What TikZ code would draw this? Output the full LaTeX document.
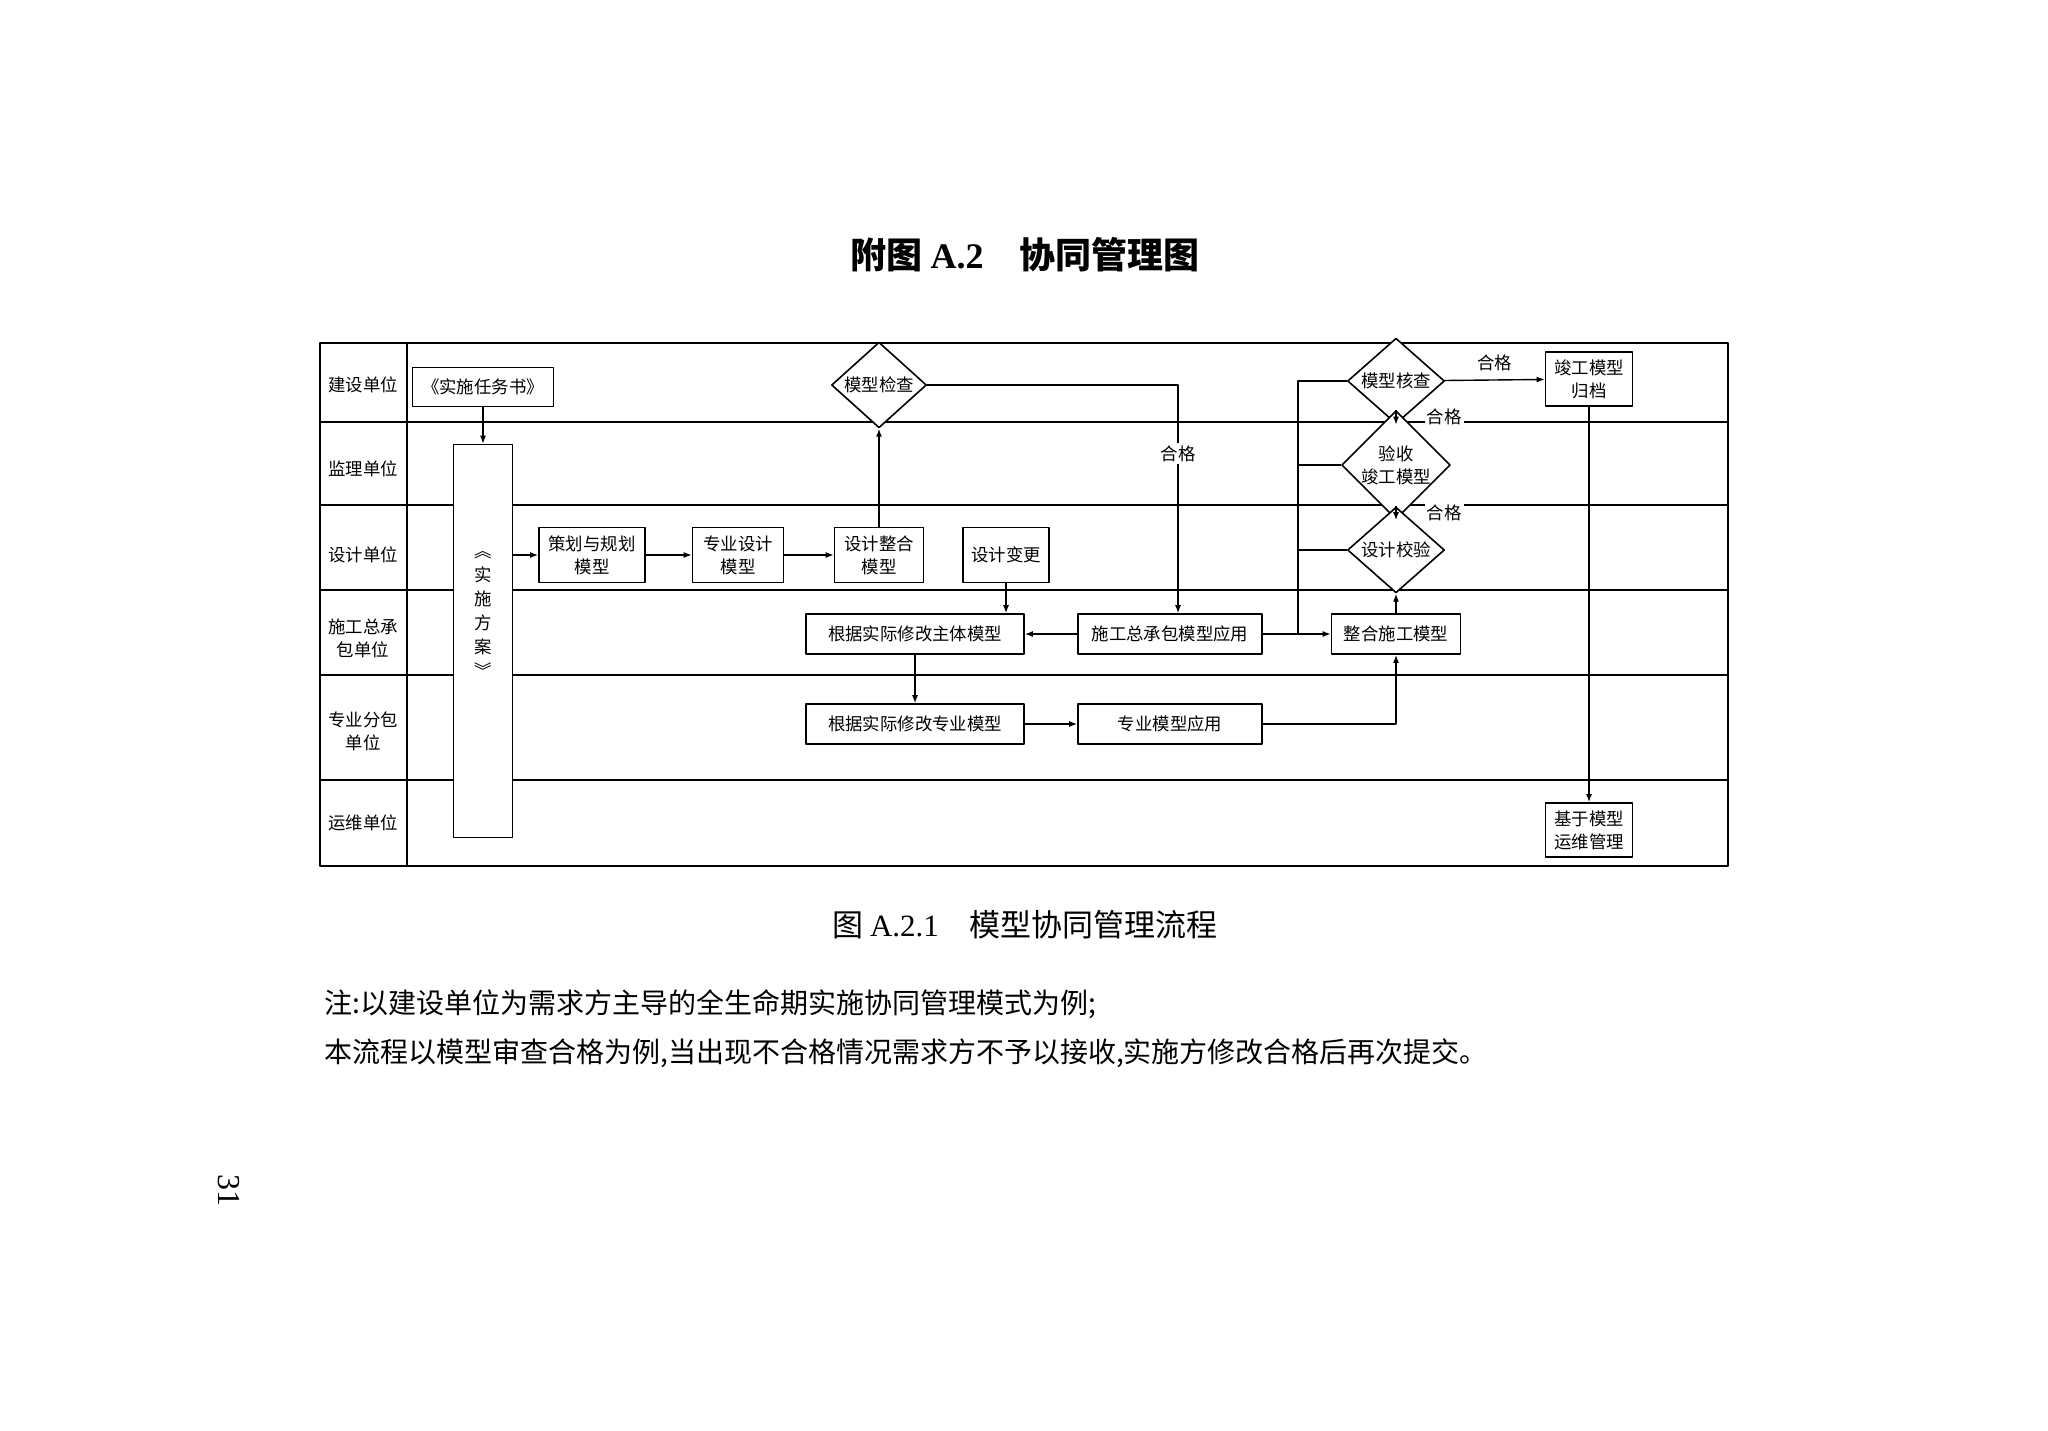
\documentclass[tikz,border=0pt]{standalone}
\usepackage{fontspec}
\setmainfont{Noto Sans CJK SC}
\newfontfamily\serifnum{Liberation Serif}
\usetikzlibrary{shapes.geometric,arrows.meta}

\begin{document}
\begin{tikzpicture}[x=0.5pt,y=-0.5pt,line join=round,
    every node/.style={font=\fontsize{8.7pt}{11.5pt}\selectfont},
    box/.style={draw,line width=0.8pt,fill=white,align=center,inner sep=0pt},
    dia/.style={draw,line width=0.8pt,fill=white,shape=diamond,align=center,inner sep=0pt},
    arr/.style={line width=0.7pt,-{Latex[length=4pt,width=3pt]}},
    lane/.style={line width=0.8pt}]
    \useasboundingbox (0,0) rectangle (2048,1430);

    \node (title) at (1025,255) {\fontsize{18pt}{20pt}\selectfont\bfseries 附图 {\serifnum A.2}\quad 协同管理图};

    \draw[lane] (320,343) rectangle (1728,866);
    \draw[lane] (407,343) -- (407,866);
    \foreach \y in {422,505,590,675,780}
      \draw[lane] (320,\y) -- (1728,\y);

    \node[align=center] (lanea) at (363,385) {建设单位};
    \node[align=center] (laneb) at (363,469) {监理单位};
    \node[align=center] (lanec) at (363,555) {设计单位};
    \node[align=center] (laned) at (363,638) {施工总承\\包单位};
    \node[align=center] (lanee) at (363,731) {专业分包\\单位};
    \node[align=center] (lanef) at (363,823) {运维单位};

    \node[box,minimum width=70.5pt,minimum height=19.5pt] (task) at (483,387) {《实施任务书》};
    \node[box,minimum width=29.5pt,minimum height=196.5pt] (plan) at (483,641) {};
    \node[align=center,font=\fontsize{8.7pt}{12pt}\selectfont] (plantxt) at (483,614) {︽\\实\\施\\方\\案\\︾};

    \node[box,minimum width=53pt,minimum height=27.5pt] (planmod) at (592,555) {策划与规划\\模型};
    \node[box,minimum width=45.5pt,minimum height=27.5pt] (specdes) at (738,555) {专业设计\\模型};
    \node[box,minimum width=44.5pt,minimum height=27.5pt] (intdes) at (879,555) {设计整合\\模型};
    \node[box,minimum width=43pt,minimum height=27.5pt] (change) at (1006,555) {设计变更};
    \node[dia,minimum width=47.5pt,minimum height=35.5pt] (check) at (879,385) {模型检查};

    \node[box,minimum width=109pt,minimum height=20pt] (modmain) at (915,634) {根据实际修改主体模型};
    \node[box,minimum width=92pt,minimum height=20pt] (gcapp) at (1170,634) {施工总承包模型应用};
    \node[box,minimum width=64.5pt,minimum height=20pt] (intcon) at (1396,634) {整合施工模型};
    \node[box,minimum width=109pt,minimum height=20pt] (modspec) at (915,724) {根据实际修改专业模型};
    \node[box,minimum width=92pt,minimum height=20pt] (specapp) at (1170,724) {专业模型应用};

    \node[dia,minimum width=48.5pt,minimum height=37pt] (verify) at (1396,381) {模型核查};
    \node[dia,minimum width=53.5pt,minimum height=38.5pt] (accept) at (1396,465) {验收\\竣工模型};
    \node[dia,minimum width=48.5pt,minimum height=37.5pt] (dcheck) at (1396,550) {设计校验};
    \node[box,minimum width=43.5pt,minimum height=27pt] (archive) at (1589,379) {竣工模型\\归档};
    \node[box,minimum width=43.5pt,minimum height=27pt] (om) at (1589,830) {基于模型\\运维管理};

    \coordinate (jn) at (1298,634);

    \draw[arr] (task) -- (plan);
    \draw[arr] (plan.east |- planmod.west) -- (planmod.west);
    \draw[arr] (planmod) -- (specdes);
    \draw[arr] (specdes) -- (intdes);
    \draw[arr] (intdes) -- (check);
    \draw[arr] (check.east) -| ([xshift=4pt]gcapp.north) node[pos=0.65,fill=white,inner sep=1pt]{合格};
    \draw[arr] (change.south) -- (change.south |- modmain.north);
    \draw[arr] (gcapp) -- (modmain);
    \draw[arr] (modmain) -- (modspec);
    \draw[arr] (modspec) -- (specapp);
    \draw[arr] (specapp.east) -| (intcon.south);
    \draw[arr] (gcapp) -- (intcon);
    \draw[lane] (jn) |- (verify.west);
    \draw[lane] (jn |- accept.west) -- (accept.west);
    \draw[lane] (jn |- dcheck.west) -- (dcheck.west);
    \draw[arr] (intcon) -- (dcheck);
    \draw[arr] (dcheck) -- (accept) node[midway,right=14pt,fill=white,inner sep=1pt]{合格};
    \draw[arr] (accept) -- (verify) node[midway,right=14pt,fill=white,inner sep=1pt]{合格};
    \draw[arr] (verify) -- (archive) node[midway,above=1pt]{合格};
    \draw[arr] (archive) -- (om);

    \node (caption) at (1025,925) {\fontsize{15.5pt}{17pt}\selectfont 图 {\serifnum A.2.1}\quad 模型协同管理流程};
    \node[anchor=west,inner sep=0pt] (notea) at (324,1004) {\fontsize{14pt}{16pt}\selectfont 注:以建设单位为需求方主导的全生命期实施协同管理模式为例;};
    \node[anchor=west,inner sep=0pt] (noteb) at (324,1053) {\fontsize{14pt}{16pt}\selectfont 本流程以模型审查合格为例,当出现不合格情况需求方不予以接收,实施方修改合格后再次提交。};
    \node[rotate=-90] (page) at (229,1190) {\fontsize{16pt}{18pt}\selectfont\serifnum 31};
  \end{tikzpicture}
\end{document}
